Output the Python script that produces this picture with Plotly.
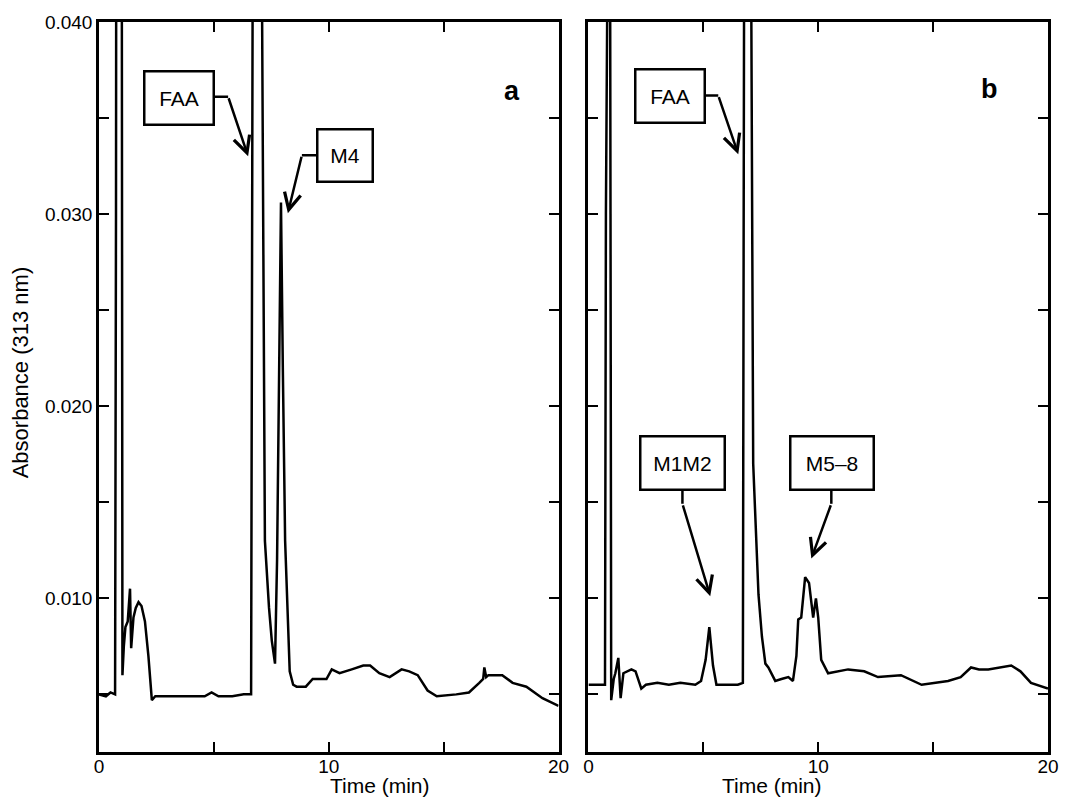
import plotly.graph_objects as go

# ---------------- data ----------------
time_a = [0, 0.3, 0.5, 0.7, 0.74, 0.76, 0.98, 1.02, 1.08, 1.15, 1.25, 1.35, 1.4, 1.5, 1.6, 1.72,
          1.85, 2.0, 2.15, 2.3, 2.45, 3.0, 4.0, 4.6, 4.9, 5.2, 5.8, 6.3, 6.62, 6.67, 6.72, 7.05,
          7.1, 7.22, 7.4, 7.52, 7.66, 7.75, 7.85, 7.92, 8.0, 8.1, 8.3, 8.45, 8.6, 9.0, 9.3, 9.9,
          10.13, 10.47, 11.0, 11.5, 11.8, 12.2, 12.65, 13.17, 13.5, 13.87, 14.3, 14.7, 15.55, 16.1,
          16.55, 16.72, 16.77, 16.85, 16.95, 17.55, 18.0, 18.6, 19.3, 20]
abs_a = [0.0050, 0.0049, 0.0051, 0.0050, 0.03, 0.06, 0.06, 0.0060, 0.0075, 0.0085, 0.0088, 0.0105,
         0.0074, 0.0090, 0.0095, 0.0098, 0.0096, 0.0088, 0.0070, 0.0047, 0.0049, 0.0049, 0.0049,
         0.0049, 0.0051, 0.0049, 0.0049, 0.0050, 0.0050, 0.03, 0.06, 0.06, 0.040, 0.013, 0.0095,
         0.0078, 0.0066, 0.012, 0.024, 0.0306, 0.022, 0.013, 0.0062, 0.0055, 0.0054, 0.0054, 0.0058,
         0.0058, 0.0063, 0.0061, 0.0063, 0.0065, 0.0065, 0.0061, 0.0059, 0.0063, 0.0062, 0.0060,
         0.0052, 0.0049, 0.0050, 0.0051, 0.0056, 0.0058, 0.0064, 0.0059, 0.0060, 0.0060, 0.0056,
         0.0054, 0.0048, 0.0044]

time_b = [0, 0.5, 0.72, 0.76, 0.8, 0.92, 0.96, 0.99, 1.1, 1.17, 1.3, 1.4, 1.52, 1.7, 1.87, 2.05,
          2.3, 2.5, 3.0, 3.5, 4.0, 4.65, 4.9, 5.1, 5.26, 5.42, 5.57, 6.0, 6.5, 6.72, 6.76, 6.8, 7.05,
          7.09, 7.17, 7.4, 7.55, 7.7, 7.83, 8.13, 8.4, 8.7, 8.9, 9.05, 9.13, 9.26, 9.43, 9.6, 9.78,
          9.9, 10.0, 10.13, 10.43, 11.3, 12.0, 12.6, 13.6, 14.5, 15.65, 16.2, 16.65, 17.0, 17.4,
          18.0, 18.4, 18.8, 19.26, 20]
abs_b = [0.0055, 0.0055, 0.0055, 0.03, 0.06, 0.06, 0.03, 0.0047, 0.0058, 0.0061, 0.0069, 0.0048,
         0.0061, 0.0062, 0.0063, 0.0062, 0.0053, 0.0055, 0.0056, 0.0055, 0.0056, 0.0055, 0.0057,
         0.0068, 0.0085, 0.0065, 0.0055, 0.0055, 0.0055, 0.0056, 0.03, 0.06, 0.06, 0.04, 0.017,
         0.0102, 0.0080, 0.0066, 0.0064, 0.0057, 0.0058, 0.0059, 0.0057, 0.0070, 0.0089, 0.0090,
         0.0111, 0.0108, 0.0090, 0.0100, 0.0090, 0.0068, 0.0061, 0.0063, 0.0062, 0.0059, 0.0060,
         0.0055, 0.0057, 0.0059, 0.0064, 0.0063, 0.0063, 0.0064, 0.0065, 0.0062, 0.0056, 0.0053]

x_tickvals = [0, 5, 10, 15, 20]
x_ticktext = ["0", "", "10", "", "20"]
y_tickvals = [0.005, 0.010, 0.015, 0.020, 0.025, 0.030, 0.035, 0.040]
y_ticktext = ["", "0.010", "", "0.020", "", "0.030", "", "0.040"]

# peak labels: text, box centre (t, abs), box w/h px, connector segment, arrow tip
labels_a = [
    ("FAA", 3.47, 0.03604, 71, 55, [(5.01, 0.03611), (5.62, 0.03611)], (6.49, 0.03301)),
    ("M4", 10.72, 0.03306, 57, 54, [(9.48, 0.03306), (8.83, 0.03306)], (8.22, 0.03005)),
]
labels_b = [
    ("FAA", 3.54, 0.03614, 71, 55, [(5.09, 0.03617), (5.65, 0.03617)], (6.52, 0.03311)),
    ("M1M2", 4.09, 0.01707, 86, 55, [(4.09, 0.01565), (4.09, 0.01492)], (5.30, 0.01011)),
    ("M5\u20138", 10.59, 0.01707, 85, 55, [(10.57, 0.01565), (10.57, 0.01492)], (9.70, 0.01207)),
]

FONT = "Liberation Sans, Arial, Helvetica, sans-serif"

fig = go.Figure()
fig.add_trace(go.Scatter(x=time_a, y=abs_a, mode="lines", line=dict(color="black", width=2.5),
                         xaxis="x", yaxis="y", showlegend=False))
fig.add_trace(go.Scatter(x=time_b, y=abs_b, mode="lines", line=dict(color="black", width=2.5),
                         xaxis="x2", yaxis="y2", showlegend=False))

ML, MR, MT, MB = 99, 20, 18, 47
W, H = 1071, 799
PW = W - ML - MR
PH = H - MT - MB

axis_common = dict(showline=True, linecolor="black", linewidth=2.5, mirror="ticks",
                   ticks="inside", ticklen=10, tickwidth=2, tickcolor="black",
                   showgrid=False, zeroline=False)
tickfont = dict(family=FONT, size=19, color="black")

fig.update_layout(
    width=W, height=H,
    margin=dict(l=ML, r=MR, t=MT, b=MB),
    paper_bgcolor="white", plot_bgcolor="white",
    xaxis=dict(domain=[0, (560 - ML) / PW], range=[0, 20], anchor="y",
               tickvals=x_tickvals, ticktext=x_ticktext, tickfont=tickfont,
               ticklabelstandoff=-5, **axis_common),
    yaxis=dict(domain=[0, 1], range=[0.002, 0.040], anchor="x",
               tickvals=y_tickvals, ticktext=y_ticktext, tickfont=tickfont, **axis_common),
    xaxis2=dict(domain=[(590 - ML) / PW, 1], range=[0, 20], anchor="y2",
                tickvals=x_tickvals, ticktext=x_ticktext, tickfont=tickfont,
                ticklabelstandoff=-5, **axis_common),
    yaxis2=dict(domain=[0, 1], range=[0.002, 0.040], anchor="x2",
                tickvals=y_tickvals, ticktext=y_ticktext, showticklabels=False, **axis_common),
)

annotations = []
shapes = []


def add_labels(items, xr, yr):
    for text, cx, cy, w, h, path, tip in items:
        annotations.append(dict(
            x=cx, y=cy, xref=xr, yref=yr, text=text, showarrow=False,
            width=w - 4, height=h - 4, borderpad=0, borderwidth=2.5, bordercolor="black",
            bgcolor="white", font=dict(family=FONT, size=21, color="black"),
            xanchor="center", yanchor="middle"))
        (x0, y0), (x1, y1) = path
        shapes.append(dict(type="line", xref=xr, yref=yr, x0=x0, y0=y0, x1=x1, y1=y1,
                           line=dict(color="black", width=2.5)))
        annotations.append(dict(
            x=tip[0], y=tip[1], ax=x1, ay=y1, xref=xr, yref=yr, axref=xr, ayref=yr,
            text="", showarrow=True, arrowhead=5, arrowsize=1.3, arrowwidth=2.5,
            arrowcolor="black", standoff=0, startstandoff=0))


add_labels(labels_a, "x", "y")
add_labels(labels_b, "x2", "y2")

# panel letters
annotations.append(dict(x=(513 - ML) / PW, y=(H - MB - 70) / PH, xref="paper", yref="paper",
                        text="<b>a</b>", showarrow=False,
                        font=dict(family=FONT, size=27, color="black")))
annotations.append(dict(x=(1003 - ML) / PW, y=(H - MB - 68) / PH, xref="paper", yref="paper",
                        text="<b>b</b>", showarrow=False,
                        font=dict(family=FONT, size=27, color="black")))
# axis titles
for cx in (329, 826):
    annotations.append(dict(x=(cx - ML) / PW, y=(H - MB - 786) / PH, xref="paper", yref="paper",
                            text="Time (min)", showarrow=False, yanchor="middle",
                            font=dict(family=FONT, size=21, color="black")))
annotations.append(dict(x=(20 - ML) / PW, y=(H - MB - 370) / PH, xref="paper", yref="paper",
                        text="Absorbance (313 nm)", showarrow=False, textangle=-90,
                        xanchor="center", yanchor="middle",
                        font=dict(family=FONT, size=22, color="black")))

fig.update_layout(annotations=annotations, shapes=shapes)
fig.write_html("out.html")
